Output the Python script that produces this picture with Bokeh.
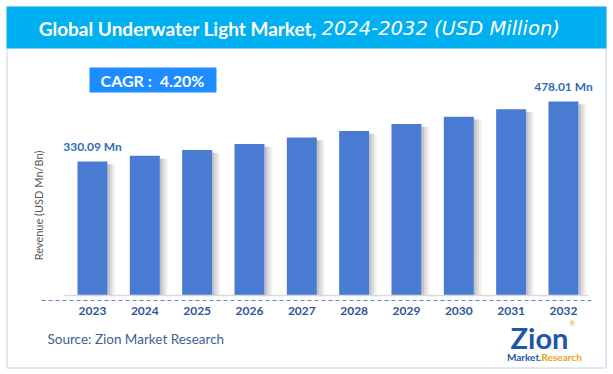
import math
from bokeh.plotting import figure
from bokeh.models import ColumnDataSource, Label, BoxAnnotation, Range1d
from bokeh.transform import dodge
from bokeh.core.properties import value
from bokeh.embed import file_html
from bokeh.resources import INLINE

# ---- data ----
years = ["2023", "2024", "2025", "2026", "2027", "2028", "2029", "2030", "2031", "2032"]
revenue = [330.09, 343.95, 358.40, 373.45, 389.14, 405.48, 422.51, 440.26, 458.75, 478.01]
title_main = "Global Underwater Light Market,"
title_sub = "2024-2032 (USD Million)"
cagr_text = "CAGR :\u00a0\u00a04.20%"
y_title = "Revenue (USD Mn/Bn)"
source_text = "Source: Zion Market Research"

FONT = "Lato"
BAR = "#4A7BD3"
LBL = "#2E6DB4"
YEARC = "#2F5597"

W, H = 612, 373
PXX = 52.33          # pixels per category step
PXY = 0.406          # pixels per USD Mn
X0_PAGE, Y0_PAGE = 92, 295   # page position of first bar centre / zero line

idx = list(range(len(years)))
src = ColumnDataSource(dict(x=idx, top=revenue, stop=[v - 7 for v in revenue]))
lab_src = ColumnDataSource(dict(
    x=[idx[0], idx[-1]],
    y=[revenue[0], revenue[-1]],
    t=[f"{revenue[0]:.2f} Mn", f"{revenue[-1]:.2f} Mn"],
))
yr_src = ColumnDataSource(dict(x=idx, y=[0] * len(idx), t=years))

x_start = -X0_PAGE / PXX
y_end = Y0_PAGE / PXY
p = figure(width=W, height=H, output_backend="svg", toolbar_location=None,
           x_range=Range1d(x_start, x_start + W / PXX),
           y_range=Range1d(y_end - H / PXY, y_end),
           min_border=0)
p.min_border_left = p.min_border_right = p.min_border_top = p.min_border_bottom = 0
p.background_fill_color = "white"
p.border_fill_color = "white"
p.outline_line_color = None
p.axis.visible = False
p.grid.visible = False

def px_x(px):   # page x -> data x
    return x_start + px / PXX

def px_y(py):   # page y -> data y
    return y_end - py / PXY

def sx(px): return px
def sy(py): return H - py

# title bar and frame
p.add_layout(BoxAnnotation(left=sx(6), right=sx(606), top=sy(6), bottom=sy(48),
                           left_units="screen", right_units="screen",
                           top_units="screen", bottom_units="screen",
                           fill_color="#00B0F0", fill_alpha=1, line_color=None))
p.add_layout(BoxAnnotation(left=sx(6.5), right=sx(605.5), top=sy(6.5), bottom=sy(367.5),
                           left_units="screen", right_units="screen",
                           top_units="screen", bottom_units="screen",
                           fill_alpha=0, line_color="#6F9FD3", line_width=1.5))

# shadows (gradient strips to the right of each bar)
for off, a in [(16.25, 0.45), (18.75, 0.27), (21.25, 0.12)]:
    p.vbar(x=dodge("x", off / PXX, range=p.x_range), top="stop", bottom=0, width=2.5 / PXX,
           source=src, fill_color="#7a7a7a", fill_alpha=a, line_color=None)
# bars
p.vbar(x="x", top="top", bottom=0, width=30 / PXX, source=src, fill_color=BAR, line_color=None)

# baseline and dashed axis line
p.segment(x0=[px_x(64)], y0=[0], x1=[px_x(588)], y1=[0], line_color="#D9D9D9", line_width=1.5)
p.segment(x0=[px_x(41)], y0=[px_y(300)], x1=[px_x(592)], y1=[px_y(300)],
          line_color="#5B87C9", line_width=1, line_dash="4 3")

# value labels
p.text(x="x", y="y", text="t", source=lab_src, text_align="center", text_baseline="bottom",
       y_offset=-7, text_font=value(FONT), text_font_style="bold", text_font_size="12px",
       text_color=LBL)

# year labels
p.text(x="x", y="y", text="t", source=yr_src, text_align="center", text_baseline="middle",
       y_offset=15, text_font=value(FONT), text_font_style="bold", text_font_size="12px",
       text_color=YEARC)

# title
p.add_layout(Label(x=sx(316), y=sy(28), x_units="screen", y_units="screen", text=title_main,
                   text_align="right", text_baseline="middle", text_font=FONT,
                   text_font_style="bold", text_font_size="19px", text_color="white"))
p.add_layout(Label(x=sx(321), y=sy(28), x_units="screen", y_units="screen", text=title_sub,
                   text_align="left", text_baseline="middle", text_font="DejaVu Sans",
                   text_font_style="italic", text_font_size="19.5px", text_color="white"))

# CAGR box
p.add_layout(BoxAnnotation(left=sx(89), right=sx(216), top=sy(67), bottom=sy(92),
                           left_units="screen", right_units="screen",
                           top_units="screen", bottom_units="screen",
                           fill_color="#1E8CFF", fill_alpha=1, line_color=None))
p.add_layout(Label(x=sx(152), y=sy(80), x_units="screen", y_units="screen", text=cagr_text,
                   text_align="center", text_baseline="middle", text_font=FONT,
                   text_font_style="bold", text_font_size="16px", text_color="white"))

# y title
p.add_layout(Label(x=sx(38), y=sy(205), x_units="screen", y_units="screen", text=y_title,
                   angle=math.pi / 2, text_align="center", text_baseline="middle",
                   text_font=FONT, text_font_size="11px", text_color="#595959"))

# source
p.add_layout(Label(x=sx(47), y=sy(338), x_units="screen", y_units="screen", text=source_text,
                   text_align="left", text_baseline="middle", text_font=FONT,
                   text_font_size="13.5px", text_color="#3A5F95"))

# logo
p.add_layout(Label(x=sx(539), y=sy(337), x_units="screen", y_units="screen", text="Zion",
                   text_align="center", text_baseline="middle", text_font=FONT,
                   text_font_style="bold", text_font_size="29px", text_color="#1F56A8"))
p.add_layout(Label(x=sx(541), y=sy(356), x_units="screen", y_units="screen", text="Market.",
                   text_align="right", text_baseline="middle", text_font=FONT,
                   text_font_style="bold", text_font_size="10px", text_color="#1F56A8"))
p.add_layout(Label(x=sx(541), y=sy(356), x_units="screen", y_units="screen", text="Research",
                   text_align="left", text_baseline="middle", text_font=FONT,
                   text_font_style="bold", text_font_size="10px", text_color="#E8A317"))
p.add_layout(Label(x=sx(572), y=sy(322), x_units="screen", y_units="screen", text="\u00ae",
                   text_align="center", text_baseline="middle", text_font=FONT,
                   text_font_size="7px", text_color="#E8A317"))

open("out.html", "w").write(file_html(p, INLINE))
